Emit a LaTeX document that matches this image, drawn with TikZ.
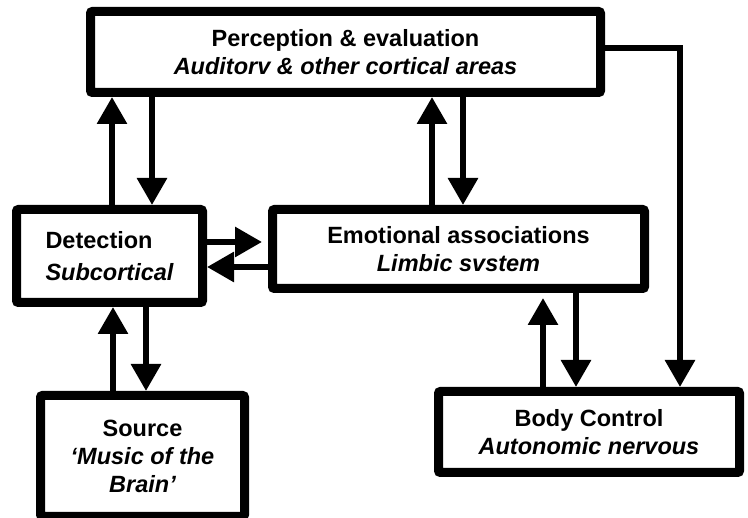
\documentclass[tikz,border=0pt]{standalone}
\usepackage{fontspec}
\setmainfont{Liberation Sans}
\usetikzlibrary{arrows.meta}
\begin{document}
\begin{tikzpicture}[x=1pt,y=-1pt,
  box/.style={draw, line width=9pt, rounded corners=2pt, inner sep=0pt,
    font=\fontsize{23.5}{28}\selectfont\bfseries, align=center},
  arr/.style={line width=6pt, -{Triangle[width=29pt,length=27pt]}}]
\useasboundingbox (0,0) rectangle (748,518);
\node[box, minimum width=510pt, minimum height=81pt] (perc) at (345.5,52)
  {Perception \& evaluation\\ \itshape Auditorv \& other cortical areas};
\node[box, minimum width=186pt, minimum height=93pt, align=left] (det) at (109.5,256)
  {Detection\\[4pt] \itshape Subcortical};
\node[box, minimum width=372pt, minimum height=79pt] (emo) at (458.5,249)
  {Emotional associations\\ \itshape Limbic svstem};
\node[box, minimum width=204pt, minimum height=121pt] (src) at (142.5,456)
  {Source\\ \itshape ‘Music of the\\ \itshape Brain’};
\node[box, minimum width=301pt, minimum height=81pt] (body) at (589,432)
  {Body Control\\ \itshape Autonomic nervous};
% guide coordinates
\coordinate (x1) at (112,0);
\coordinate (x2) at (152,0);
\coordinate (x3) at (432,0);
\coordinate (x4) at (463,0);
\coordinate (x5) at (113,0);
\coordinate (x6) at (146,0);
\coordinate (x7) at (543,0);
\coordinate (x8) at (576,0);
\coordinate (y1) at (0,242);
\coordinate (y2) at (0,267);
\coordinate (y3) at (0,48);
\coordinate (corner) at (680,48);
% connectors
\draw[arr] (det.north -| x1) -- (perc.south -| x1);
\draw[arr] (perc.south -| x2) -- (det.north -| x2);
\draw[arr] (emo.north -| x3) -- (perc.south -| x3);
\draw[arr] (perc.south -| x4) -- (emo.north -| x4);
\draw[arr, shorten >=6pt] (det.east |- y1) -- (emo.west |- y1);
\draw[arr] (emo.west |- y2) -- (det.east |- y2);
\draw[arr] (src.north -| x5) -- (det.south -| x5);
\draw[arr] (det.south -| x6) -- (src.north -| x6);
\draw[arr, shorten >=5pt] (body.north -| x7) -- (emo.south -| x7);
\draw[arr] (emo.south -| x8) -- (body.north -| x8);
\draw[arr] (perc.east |- y3) -- (corner) -- (body.north -| corner);
\end{tikzpicture}
\end{document}
